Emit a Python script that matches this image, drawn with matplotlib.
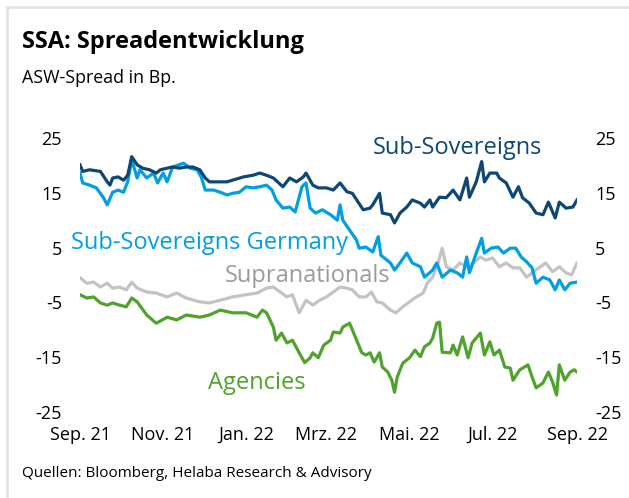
import matplotlib
matplotlib.use('Agg')
import matplotlib.pyplot as plt
import numpy as np
import pandas as pd

plt.rcParams['font.family'] = ['Open Sans', 'DejaVu Sans']

start = pd.Timestamp('2021-09-01')

# days since 1 Sep 2021 / spread in bp
sub_sov_day = [0, 2, 7, 15, 20, 22, 24, 28, 32, 35, 38, 42, 46, 51, 56, 59, 64, 68, 73, 78,
               83, 88, 92, 95, 100, 108, 112, 120, 127, 132, 137, 142, 149, 154, 159, 164, 166, 171, 175, 181,
               186, 191, 196, 200, 204, 208, 213, 215, 220, 222, 228, 231, 235, 240, 244, 250, 253, 257, 259, 264,
               269, 274, 279, 284, 286, 291, 295, 297, 301, 306, 308, 313, 318, 322, 325, 330, 335, 340, 344, 349,
               352, 357, 362, 365]
sub_sov = [20.1, 18.9, 19.2, 18.9, 17.0, 16.4, 17.7, 17.9, 17.3, 18.2, 21.6, 20.1, 19.5, 19.2, 18.6, 19.2, 19.5, 19.7, 19.5, 19.7,
           19.7, 19.2, 17.7, 17.0, 17.0, 17.0, 17.3, 17.9, 18.2, 18.6, 18.2, 17.7, 16.1, 17.7, 17.0, 17.9, 18.6, 16.4, 15.9, 15.9,
           15.5, 16.8, 15.2, 14.9, 13.4, 11.9, 12.2, 12.8, 14.9, 11.3, 11.0, 9.5, 11.3, 12.4, 13.7, 13.1, 12.4, 13.7, 12.4, 14.2,
           14.1, 15.5, 13.7, 17.7, 14.2, 17.0, 20.7, 17.0, 18.6, 18.6, 17.7, 16.8, 14.2, 16.1, 14.1, 13.1, 11.3, 11.0, 13.3, 10.4,
           13.3, 12.2, 12.4, 13.7]

germany_day = [0, 2, 7, 12, 17, 20, 24, 28, 32, 35, 38, 42, 44, 49, 54, 57, 61, 64, 68, 76,
               81, 86, 89, 92, 98, 103, 108, 112, 117, 122, 127, 132, 137, 141, 144, 149, 154, 158, 163, 166,
               169, 173, 178, 184, 189, 191, 193, 198, 203, 205, 210, 215, 219, 221, 228, 231, 235, 240, 244, 250,
               253, 259, 262, 266, 272, 277, 281, 284, 286, 291, 295, 297, 302, 307, 311, 316, 320, 324, 328, 332,
               335, 340, 345, 349, 352, 356, 360, 365]
germany = [18.6, 16.8, 16.4, 15.9, 14.2, 12.8, 15.1, 15.5, 15.1, 17.0, 21.0, 17.7, 19.2, 17.7, 18.6, 16.8, 18.6, 17.0, 19.7, 20.4,
           19.5, 19.2, 17.9, 15.5, 15.5, 15.1, 14.6, 14.9, 15.1, 16.1, 15.9, 16.1, 16.4, 15.5, 13.7, 12.2, 12.4, 11.5, 16.1, 16.8,
           12.2, 11.3, 11.9, 11.0, 10.0, 12.8, 10.0, 8.2, 6.4, 4.9, 5.1, 4.2, 7.0, 3.6, 2.2, 0.9, 2.2, 4.0, 2.2, 1.5,
           -0.4, 0.9, 2.2, -0.4, 0.9, 0.4, -0.4, 3.3, 0.4, 4.0, 6.7, 4.0, 4.9, 5.1, 4.0, 4.9, 4.9, 3.3, 2.4, 1.3,
           -1.5, -0.4, -0.9, -2.7, -0.9, -2.7, -1.5, -1.3]

supra_day = [0, 5, 10, 15, 20, 24, 29, 34, 38, 42, 49, 56, 64, 71, 78, 88, 95, 103, 112, 122,
             130, 137, 142, 147, 152, 156, 161, 166, 171, 176, 181, 186, 191, 196, 200, 205, 210, 214, 218, 222,
             228, 232, 237, 242, 247, 252, 255, 259, 263, 266, 269, 274, 279, 284, 289, 294, 298, 303, 308, 313,
             318, 323, 328, 332, 337, 342, 347, 352, 357, 361, 365]
supra = [-0.5, -1.5, -1.3, -2.2, -1.5, -2.4, -2.2, -2.7, -1.3, -2.4, -3.1, -3.3, -4.0, -3.3, -4.2, -4.9, -5.1, -4.6, -4.0, -3.6,
         -3.3, -2.4, -2.2, -3.1, -4.0, -3.6, -6.9, -4.6, -5.5, -4.6, -4.0, -3.1, -2.2, -2.4, -2.7, -4.0, -4.0, -3.1, -4.9, -5.1,
         -6.4, -6.9, -5.8, -4.9, -4.0, -3.3, -1.5, -0.4, 2.2, 4.9, 1.5, 0.9, 2.2, 1.5, 2.2, 3.3, 2.7, 3.1, 1.5, 2.2,
         1.3, 1.3, -0.4, 0.4, 1.3, 2.2, 0.6, 1.5, 0.4, 0.0, 2.2]

agencies_day = [0, 5, 10, 15, 20, 24, 29, 34, 38, 42, 49, 56, 64, 71, 78, 88, 95, 103, 112, 122,
                130, 134, 137, 142, 144, 148, 152, 156, 161, 165, 169, 171, 175, 179, 184, 186, 191, 193, 198, 200,
                204, 207, 210, 213, 216, 220, 222, 226, 229, 231, 233, 237, 242, 246, 250, 253, 257, 259, 262, 264,
                266, 272, 274, 277, 281, 285, 288, 294, 297, 301, 304, 308, 312, 316, 318, 323, 329, 332, 335, 340,
                344, 347, 350, 352, 356, 360, 363, 365]
agencies = [-3.6, -4.2, -4.0, -5.1, -5.5, -5.1, -5.5, -5.8, -4.2, -4.9, -7.3, -8.8, -7.7, -8.2, -7.3, -7.7, -7.3, -6.4, -6.9, -6.9,
            -7.7, -6.4, -6.9, -9.5, -11.9, -10.6, -12.4, -11.9, -14.2, -16.0, -15.1, -14.2, -15.1, -12.8, -11.9, -10.4, -10.6, -9.5, -8.8, -10.0,
            -12.4, -14.2, -14.6, -14.2, -15.9, -14.2, -16.8, -17.7, -19.2, -21.4, -18.6, -16.1, -15.1, -13.7, -14.9, -13.1, -12.4, -11.5, -8.8, -8.6,
            -14.1, -14.2, -12.8, -14.6, -11.3, -15.1, -12.4, -10.6, -14.6, -12.2, -14.6, -13.7, -16.8, -17.0, -19.2, -17.3, -16.4, -18.6, -20.6, -19.7,
            -17.7, -19.5, -21.9, -16.4, -19.2, -17.7, -17.3, -17.7]

tick_dates = ['2021-09-01', '2021-11-01', '2022-01-01', '2022-03-01', '2022-05-01', '2022-07-01', '2022-09-01']
tick_labels = ['Sep. 21', 'Nov. 21', 'Jan. 22', 'Mrz. 22', 'Mai. 22', 'Jul. 22', 'Sep. 22']
y_ticks = [25, 15, 5, -5, -15, -25]

navy = '#0d4775'
light_blue = '#009fe3'
gray = '#c3c3c3'
green = '#4fa32d'


def to_dates(days):
    return start + pd.to_timedelta(np.array(days), unit='D')


fig = plt.figure(figsize=(6.29, 4.98), dpi=100)
ax = fig.add_axes([80 / 629, 1 - 412 / 498, 497 / 629, 274 / 498])

ax.plot(to_dates(supra_day), supra, color=gray, linewidth=2.3)
ax.plot(to_dates(agencies_day), agencies, color=green, linewidth=2.3)
ax.plot(to_dates(germany_day), germany, color=light_blue, linewidth=2.3)
ax.plot(to_dates(sub_sov_day), sub_sov, color=navy, linewidth=2.3)

ax.set_xlim(pd.Timestamp('2021-09-01'), pd.Timestamp('2022-09-01'))
ax.set_ylim(-25, 25)
ax.set_yticks(y_ticks)
ax.set_yticklabels([str(t) for t in y_ticks])
ax.set_xticks(pd.to_datetime(tick_dates))
ax.set_xticklabels(tick_labels)
ax.tick_params(axis='y', length=0, pad=13, labelsize=13, labelleft=True, labelright=True)
ax.tick_params(axis='x', length=0, pad=10, labelsize=13)
for spine in ['left', 'right', 'top', 'bottom']:
    ax.spines[spine].set_visible(False)
ax.patch.set_alpha(0)

ax.text(start + pd.Timedelta(days=277), 23.1, 'Sub-Sovereigns', color=navy,
        fontsize=17, ha='center', va='center')
ax.text(start + pd.Timedelta(days=95), 5.8, 'Sub-Sovereigns Germany', color=light_blue,
        fontsize=17, ha='center', va='center')
ax.text(start + pd.Timedelta(days=167), -0.1, 'Supranationals', color='#9b9b9b',
        fontsize=17, ha='center', va='center')
ax.text(start + pd.Timedelta(days=130), -19.7, 'Agencies', color=green,
        fontsize=17, ha='center', va='center')

fig.text(22 / 629, 1 - 42 / 498, 'SSA: Spreadentwicklung', fontsize=17, fontweight='bold',
         ha='left', va='center')
fig.text(22 / 629, 1 - 78 / 498, 'ASW-Spread in Bp.', fontsize=12.8, ha='left', va='center')
fig.text(22 / 629, 1 - 473 / 498, 'Quellen: Bloomberg, Helaba Research & Advisory', fontsize=11,
         ha='left', va='center')

# light frame around the chart
fig.add_artist(plt.Line2D([7 / 629, 7 / 629], [0, 1 - 7 / 498], color='#e3e3e3', linewidth=2))
fig.add_artist(plt.Line2D([7 / 629, 1], [1 - 7 / 498, 1 - 7 / 498], color='#e3e3e3', linewidth=2))

fig.savefig('out.png', dpi=100)
